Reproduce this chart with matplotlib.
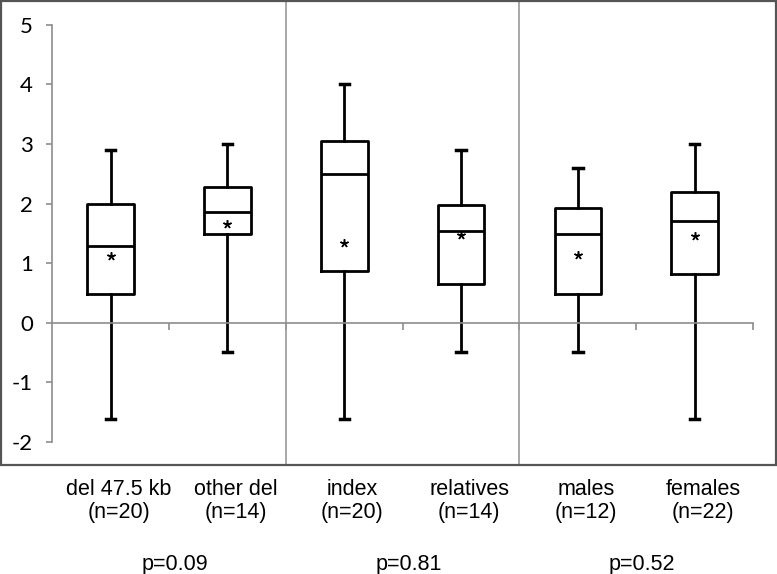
import matplotlib.pyplot as plt
from matplotlib.patches import Rectangle
from matplotlib.transforms import blended_transform_factory

# groups (box order left to right)
labels = ['del 47.5 kb\n(n=20)', 'other del\n(n=14)', 'index\n(n=20)',
          'relatives\n(n=14)', 'males\n(n=12)', 'females\n(n=22)']
whisker_low = [-1.61, -0.50, -1.61, -0.50, -0.50, -1.61]
q1 = [0.48, 1.49, 0.87, 0.65, 0.48, 0.82]
median = [1.29, 1.85, 2.50, 1.54, 1.49, 1.71]
q3 = [2.00, 2.27, 3.05, 1.98, 1.93, 2.19]
whisker_high = [2.90, 3.00, 4.00, 2.90, 2.59, 3.00]
mean = [1.12, 1.66, 1.34, 1.47, 1.14, 1.46]
p_values = ['p=0.09', 'p=0.81', 'p=0.52']

stats = []
for i in range(len(labels)):
    stats.append({'whislo': whisker_low[i], 'q1': q1[i], 'med': median[i],
                  'q3': q3[i], 'whishi': whisker_high[i], 'mean': mean[i],
                  'fliers': []})

fig = plt.figure(figsize=(7.77, 5.74), dpi=100)
ax = fig.add_axes([1 / 777, 109 / 574, 775 / 777, 464 / 574])

pos = list(range(len(labels)))
ax.bxp(stats, positions=pos, widths=0.4, showmeans=True, patch_artist=False,
       capwidths=0.08,
       boxprops=dict(color='black', linewidth=2),
       medianprops=dict(color='black', linewidth=2),
       whiskerprops=dict(color='black', linewidth=2),
       capprops=dict(color='black', linewidth=2.5),
       meanprops=dict(marker=(5, 2, 0), markersize=6, markeredgecolor='black',
                      markeredgewidth=1.1, markerfacecolor='black'))

ax.set_xlim(-0.939, 5.696)
ax.set_ylim(-2.389, 5.40)

# axis lines
for s in ['top', 'right']:
    ax.spines[s].set_visible(False)
ax.spines['left'].set_position(('data', -0.5))
ax.spines['left'].set_bounds(-2, 5)
ax.spines['bottom'].set_position(('data', 0))
ax.spines['bottom'].set_bounds(-0.5, 5.5)
for s in ['left', 'bottom']:
    ax.spines[s].set_color('#8c8c8c')
    ax.spines[s].set_linewidth(1.2)

ax.set_yticks(range(-2, 6))
ax.set_yticklabels([str(v) for v in range(-2, 6)], fontsize=16, family='Lato')
ax.tick_params(axis='y', direction='out', length=4, width=1.2, color='#8c8c8c', pad=10)
ax.set_xticks([p + 0.5 for p in pos])
ax.set_xticklabels([])
ax.tick_params(axis='x', direction='out', length=5, width=1.2, color='#8c8c8c')

# group separators
for xs in [1.5, 3.5]:
    ax.axvline(xs, color='#9a9a9a', linewidth=1.2)

# outer frame
fig.patches.append(Rectangle((1 / 777, 109 / 574), 775 / 777, 464 / 574,
                             transform=fig.transFigure, fill=False,
                             edgecolor='#555555', linewidth=1.6))

trans = blended_transform_factory(ax.transData, fig.transFigure)
for i, lab in enumerate(labels):
    ax.text(i + 0.07, 0.127, lab, transform=trans, ha='center', va='center',
            fontsize=15.5, family='Liberation Sans', linespacing=1.15)
for k, p in enumerate(p_values):
    ax.text(2 * k + 0.55, 0.016, p, transform=trans, ha='center', va='center',
            fontsize=15.5, family='Liberation Sans')

fig.savefig('out.png', dpi=100)
